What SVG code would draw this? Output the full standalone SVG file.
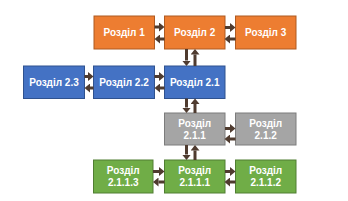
<svg xmlns="http://www.w3.org/2000/svg" width="348" height="201" viewBox="0 0 348 201">
<style>
.box{stroke-width:1}
.o{fill:#ED7D31;stroke:#AE5A21}
.b{fill:#4472C4;stroke:#2F528F}
.g{fill:#A5A5A5;stroke:#7C7C7C}
.gr{fill:#70AD47;stroke:#507E32}
text{font-family:"Liberation Sans",Arial,sans-serif;font-weight:bold;font-size:10px;fill:#fff;text-anchor:middle}
.c line{stroke:#4F3B2F;stroke-width:3}
</style>
<defs>
<marker id="ah" markerUnits="userSpaceOnUse" markerWidth="6" markerHeight="9" refX="0" refY="4.5" orient="auto">
<path d="M0,0 L5.5,4.5 L0,9 z" fill="#4F3B2F"/>
</marker>
</defs>
<rect width="348" height="201" fill="#fff"/>
<g id="n1"><rect class="box o" x="94" y="16" width="60.5" height="33"/><text x="124.2" y="36">Розділ 1</text></g>
<g id="n2"><rect class="box o" x="164.5" y="16" width="60.5" height="33"/><text x="194.7" y="36">Розділ 2</text></g>
<g id="n3"><rect class="box o" x="235.5" y="16" width="60.5" height="33"/><text x="265.7" y="36">Розділ 3</text></g>
<g id="n23"><rect class="box b" x="23.5" y="66" width="61" height="32.5"/><text x="54" y="85.5">Розділ 2.3</text></g>
<g id="n22"><rect class="box b" x="93.5" y="66" width="61" height="32.5"/><text x="124" y="85.5">Розділ 2.2</text></g>
<g id="n21"><rect class="box b" x="164.5" y="66" width="60.5" height="32.5"/><text x="194.7" y="85.5">Розділ 2.1</text></g>
<g id="n211"><rect class="box g" x="164.5" y="113" width="60.5" height="32"/><text x="194.7" y="126.5">Розділ</text><text x="194.7" y="138.5">2.1.1</text></g>
<g id="n212"><rect class="box g" x="235.5" y="113" width="60.5" height="32"/><text x="265.7" y="126.5">Розділ</text><text x="265.7" y="138.5">2.1.2</text></g>
<g id="n2113"><rect class="box gr" x="93.5" y="160" width="59.5" height="33"/><text x="123.2" y="174">Розділ</text><text x="123.2" y="185.5">2.1.1.3</text></g>
<g id="n2111"><rect class="box gr" x="164.5" y="160" width="60.5" height="33"/><text x="194.7" y="174">Розділ</text><text x="194.7" y="185.5">2.1.1.1</text></g>
<g id="n2112"><rect class="box gr" x="235.5" y="160" width="60.5" height="33"/><text x="265.7" y="174">Розділ</text><text x="265.7" y="185.5">2.1.1.2</text></g>
<g class="c" id="connectors">
<line x1="154.5" y1="27" x2="159" y2="27" marker-end="url(#ah)"/>
<line x1="164.5" y1="39" x2="160" y2="39" marker-end="url(#ah)"/>
<line x1="225" y1="27.5" x2="230" y2="27.5" marker-end="url(#ah)"/>
<line x1="235.5" y1="39" x2="230" y2="39" marker-end="url(#ah)"/>
<line x1="84.5" y1="76.5" x2="88" y2="76.5" marker-end="url(#ah)"/>
<line x1="93.5" y1="88" x2="90" y2="88" marker-end="url(#ah)"/>
<line x1="154.5" y1="76.5" x2="159" y2="76.5" marker-end="url(#ah)"/>
<line x1="164.5" y1="88" x2="160" y2="88" marker-end="url(#ah)"/>
<line x1="225" y1="128.5" x2="230" y2="128.5" marker-end="url(#ah)"/>
<line x1="235.5" y1="139" x2="230" y2="139" marker-end="url(#ah)"/>
<line x1="153" y1="171.5" x2="159" y2="171.5" marker-end="url(#ah)"/>
<line x1="164.5" y1="182" x2="158.5" y2="182" marker-end="url(#ah)"/>
<line x1="225" y1="171.5" x2="230" y2="171.5" marker-end="url(#ah)"/>
<line x1="235.5" y1="182" x2="230" y2="182" marker-end="url(#ah)"/>
<line x1="186.5" y1="49" x2="186.5" y2="60.5" marker-end="url(#ah)"/>
<line x1="195" y1="66" x2="195" y2="54.5" marker-end="url(#ah)"/>
<line x1="186.5" y1="98.5" x2="186.5" y2="107.5" marker-end="url(#ah)"/>
<line x1="195" y1="113" x2="195" y2="104" marker-end="url(#ah)"/>
<line x1="186.5" y1="145" x2="186.5" y2="154.5" marker-end="url(#ah)"/>
<line x1="195" y1="160" x2="195" y2="150.5" marker-end="url(#ah)"/>
</g>
</svg>
